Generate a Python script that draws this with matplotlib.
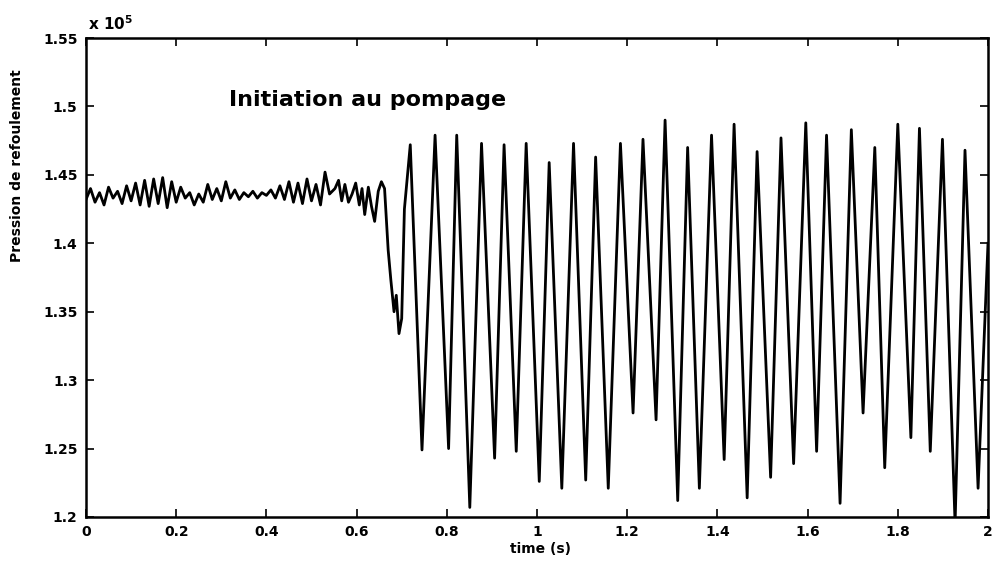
import matplotlib.pyplot as plt
import numpy as np

# pressure, in units of 1e5 Pa
# steady part: one sample every 10 ms from t = 0
noise_dt = 0.01
noise_vals = [
    1.432, 1.440, 1.430, 1.437, 1.428, 1.441, 1.433, 1.438, 1.429, 1.442,
    1.431, 1.444, 1.428, 1.446, 1.427, 1.447, 1.429, 1.448, 1.426, 1.445,
    1.430, 1.441, 1.433, 1.437, 1.428, 1.436, 1.430, 1.443, 1.432, 1.440,
    1.431, 1.445, 1.433, 1.439, 1.432, 1.437, 1.434, 1.438, 1.433, 1.437,
    1.435, 1.439, 1.433, 1.442, 1.432, 1.445, 1.430, 1.444, 1.429, 1.447,
    1.431, 1.443, 1.428, 1.452, 1.436,
]

# onset of surge
onset_t = [0.552, 0.560, 0.567, 0.574, 0.582, 0.590, 0.598, 0.606, 0.612, 0.618,
           0.626, 0.633, 0.640, 0.648, 0.655, 0.662, 0.670, 0.676, 0.683, 0.688,
           0.694, 0.700, 0.706]
onset_v = [1.440, 1.446, 1.431, 1.443, 1.430, 1.436, 1.444, 1.428, 1.440, 1.421,
           1.441, 1.427, 1.416, 1.438, 1.445, 1.440, 1.395, 1.373, 1.350, 1.362,
           1.334, 1.345, 1.425]

# surge cycles: alternating peaks and troughs
surge_t = [0.719, 0.745, 0.774, 0.804, 0.822, 0.851, 0.877, 0.906, 0.927, 0.954,
           0.976, 1.005, 1.027, 1.055, 1.081, 1.108, 1.130, 1.158, 1.185, 1.213,
           1.235, 1.264, 1.284, 1.312, 1.334, 1.360, 1.387, 1.415, 1.437, 1.466,
           1.488, 1.518, 1.541, 1.569, 1.596, 1.620, 1.642, 1.672, 1.697, 1.723,
           1.749, 1.771, 1.800, 1.829, 1.848, 1.872, 1.899, 1.927, 1.949, 1.978,
           2.000]
surge_v = [1.472, 1.249, 1.479, 1.250, 1.479, 1.207, 1.473, 1.243, 1.472, 1.248,
           1.473, 1.226, 1.459, 1.221, 1.473, 1.227, 1.463, 1.221, 1.473, 1.276,
           1.476, 1.271, 1.490, 1.212, 1.470, 1.221, 1.479, 1.242, 1.487, 1.214,
           1.467, 1.229, 1.477, 1.239, 1.488, 1.248, 1.479, 1.210, 1.483, 1.276,
           1.470, 1.236, 1.487, 1.258, 1.484, 1.248, 1.476, 1.195, 1.468, 1.221,
           1.400]

x_ticks = [0, 0.2, 0.4, 0.6, 0.8, 1, 1.2, 1.4, 1.6, 1.8, 2]
x_labels = ['0', '0.2', '0.4', '0.6', '0.8', '1', '1.2', '1.4', '1.6', '1.8', '2']
y_ticks = [1.2, 1.25, 1.3, 1.35, 1.4, 1.45, 1.5, 1.55]
y_labels = ['1.2', '1.25', '1.3', '1.35', '1.4', '1.45', '1.5', '1.55']

t = np.concatenate([np.arange(len(noise_vals)) * noise_dt, onset_t, surge_t])
p = np.concatenate([noise_vals, onset_v, surge_v])

fig = plt.figure(figsize=(9.94, 5.61), dpi=100)
ax = fig.add_axes([86 / 994, 44 / 561, 902 / 994, 479 / 561])

ax.plot(t, p, color='black', linewidth=2.0)

ax.set_xlim(0, 2)
ax.set_ylim(1.2, 1.55)
ax.set_xticks(x_ticks)
ax.set_xticklabels(x_labels, fontweight='bold', fontsize=10)
ax.set_yticks(y_ticks)
ax.set_yticklabels(y_labels, fontweight='bold', fontsize=10)
ax.tick_params(direction='in', length=6, width=1.2, top=True, right=True, pad=6)
for s in ax.spines.values():
    s.set_linewidth(1.8)

ax.text(0.318, 1.505, 'Initiation au pompage', fontsize=16, fontweight='bold',
        ha='left', va='center')

fig.text(88 / 994, 1 - 24 / 561, r'x 10$^{\mathbf{5}}$', fontsize=11, fontweight='bold',
         ha='left', va='center')
fig.text(17 / 994, 1 - 166 / 561, 'Pression de refoulement', rotation=90,
         fontsize=10, fontweight='bold', ha='center', va='center')
fig.text(540 / 994, 1 - 549 / 561, 'time (s)', fontsize=10, fontweight='bold',
         ha='center', va='center')

fig.savefig('out.png', dpi=100)
